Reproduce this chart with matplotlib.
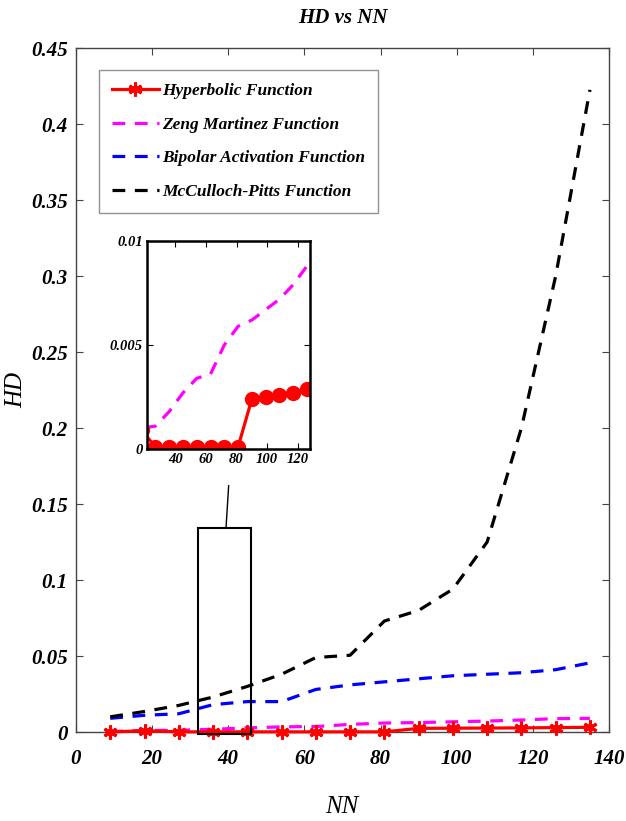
import matplotlib
matplotlib.use('Agg')
import matplotlib.pyplot as plt
from matplotlib.patches import Rectangle

# Data (HD for each number of neurons)
nn = [9, 18, 27, 36, 45, 54, 63, 72, 81, 90, 99, 108, 117, 126, 135]
hyperbolic = [0.0, 0.0009, 0.0001, 0.0001, 0.0001, 0.0001, 0.0001, 0.0001, 0.0001,
              0.0024, 0.0025, 0.0026, 0.0027, 0.0029, 0.0031]
zeng = [0.0003, 0.0010, 0.0011, 0.0018, 0.0027, 0.0034, 0.0036, 0.0050, 0.0059,
        0.0062, 0.0067, 0.0072, 0.0079, 0.0088, 0.0090]
bipolar = [0.009, 0.011, 0.012, 0.018, 0.020, 0.020, 0.028, 0.031, 0.033,
           0.035, 0.037, 0.038, 0.039, 0.041, 0.0455]
mcculloch = [0.010, 0.0135, 0.0175, 0.023, 0.030, 0.038, 0.049, 0.0505, 0.073,
             0.080, 0.094, 0.125, 0.200, 0.300, 0.4225]

labels = ['Hyperbolic Function', 'Zeng Martinez Function',
          'Bipolar Activation Function', 'McCulloch-Pitts Function']
xticks = [0, 20, 40, 60, 80, 100, 120, 140]
yticks = [0, 0.05, 0.1, 0.15, 0.2, 0.25, 0.3, 0.35, 0.4, 0.45]
inset_xticks = [40, 60, 80, 100, 120]
inset_yticks = [0, 0.005, 0.01]

plt.rcParams['font.family'] = ['Liberation Serif', 'DejaVu Serif']
plt.rcParams['font.weight'] = 'bold'
plt.rcParams['font.style'] = 'italic'

fig = plt.figure(figsize=(6.26, 8.21), dpi=100)
ax = fig.add_axes([0.1214, 0.1084, 0.8514, 0.8331])

dash = (4, 3)
ax.plot(nn, hyperbolic, color='red', lw=2.3, marker=(6, 2, 0), markersize=10,
        markeredgewidth=2.2, label=labels[0], clip_on=False, zorder=5)
ax.plot(nn, zeng, color='magenta', lw=2.3, dashes=dash, label=labels[1], clip_on=False)
ax.plot(nn, bipolar, color='blue', lw=2.3, dashes=dash, label=labels[2], clip_on=False)
ax.plot(nn, mcculloch, color='black', lw=2.3, dashes=dash, label=labels[3], clip_on=False)

ax.set_xlim(0, 140)
ax.set_ylim(0, 0.45)
ax.set_xticks(xticks)
ax.set_yticks(yticks)
ax.set_xticklabels([str(t) for t in xticks])
ax.set_yticklabels(['0', '0.05', '0.1', '0.15', '0.2', '0.25', '0.3', '0.35', '0.4', '0.45'])
ax.tick_params(direction='in', top=True, right=True, length=5, width=0.8,
               labelsize=15, color='#444444')
ax.tick_params(axis='x', pad=12)
ax.tick_params(axis='y', pad=6)
for s in ax.spines.values():
    s.set_color('#444444')
    s.set_linewidth(1.0)

ax.set_xlabel('NN', fontsize=18)
ax.xaxis.set_label_coords(0.499, -0.093)
ax.set_ylabel('HD', fontsize=18)
ax.yaxis.set_label_coords(-0.092, 0.5)
ax.text(0.5, 1.044, 'HD vs NN', transform=ax.transAxes, ha='center', va='center',
        fontsize=15)

leg = ax.legend(loc='upper left', bbox_to_anchor=(0.043, 0.968), borderaxespad=0,
                fontsize=12.5, handlelength=2.7, handletextpad=0.2, labelspacing=1.0,
                fancybox=False, edgecolor='#777777', borderpad=0.75)
leg.get_frame().set_linewidth(1.0)

# zoomed region box and connector
ax.add_patch(Rectangle((32.1, -0.0013), 14.0, 0.1353, fill=False, edgecolor='black',
                       lw=1.5, clip_on=False, zorder=6))
ax.plot([39.4, 40.1], [0.134, 0.162], color='black', lw=1.0)

# inset
axin = fig.add_axes([0.2348, 0.4531, 0.2604, 0.2533])
axin.plot(nn, zeng, color='magenta', lw=2.3, dashes=(4, 3))
axin.plot(nn, hyperbolic, color='red', lw=2.3, marker='o', markersize=10)
axin.set_xlim(21.5, 128)
axin.set_ylim(0, 0.01)
axin.set_xticks(inset_xticks)
axin.set_yticks(inset_yticks)
axin.set_xticklabels([str(t) for t in inset_xticks])
axin.set_yticklabels(['0', '0.005', '0.01'])
axin.tick_params(direction='in', top=True, right=True, length=4, width=0.8,
                 labelsize=10.5, pad=3)
for s in axin.spines.values():
    s.set_color('black')
    s.set_linewidth(1.8)

fig.savefig('out.png', dpi=100)
